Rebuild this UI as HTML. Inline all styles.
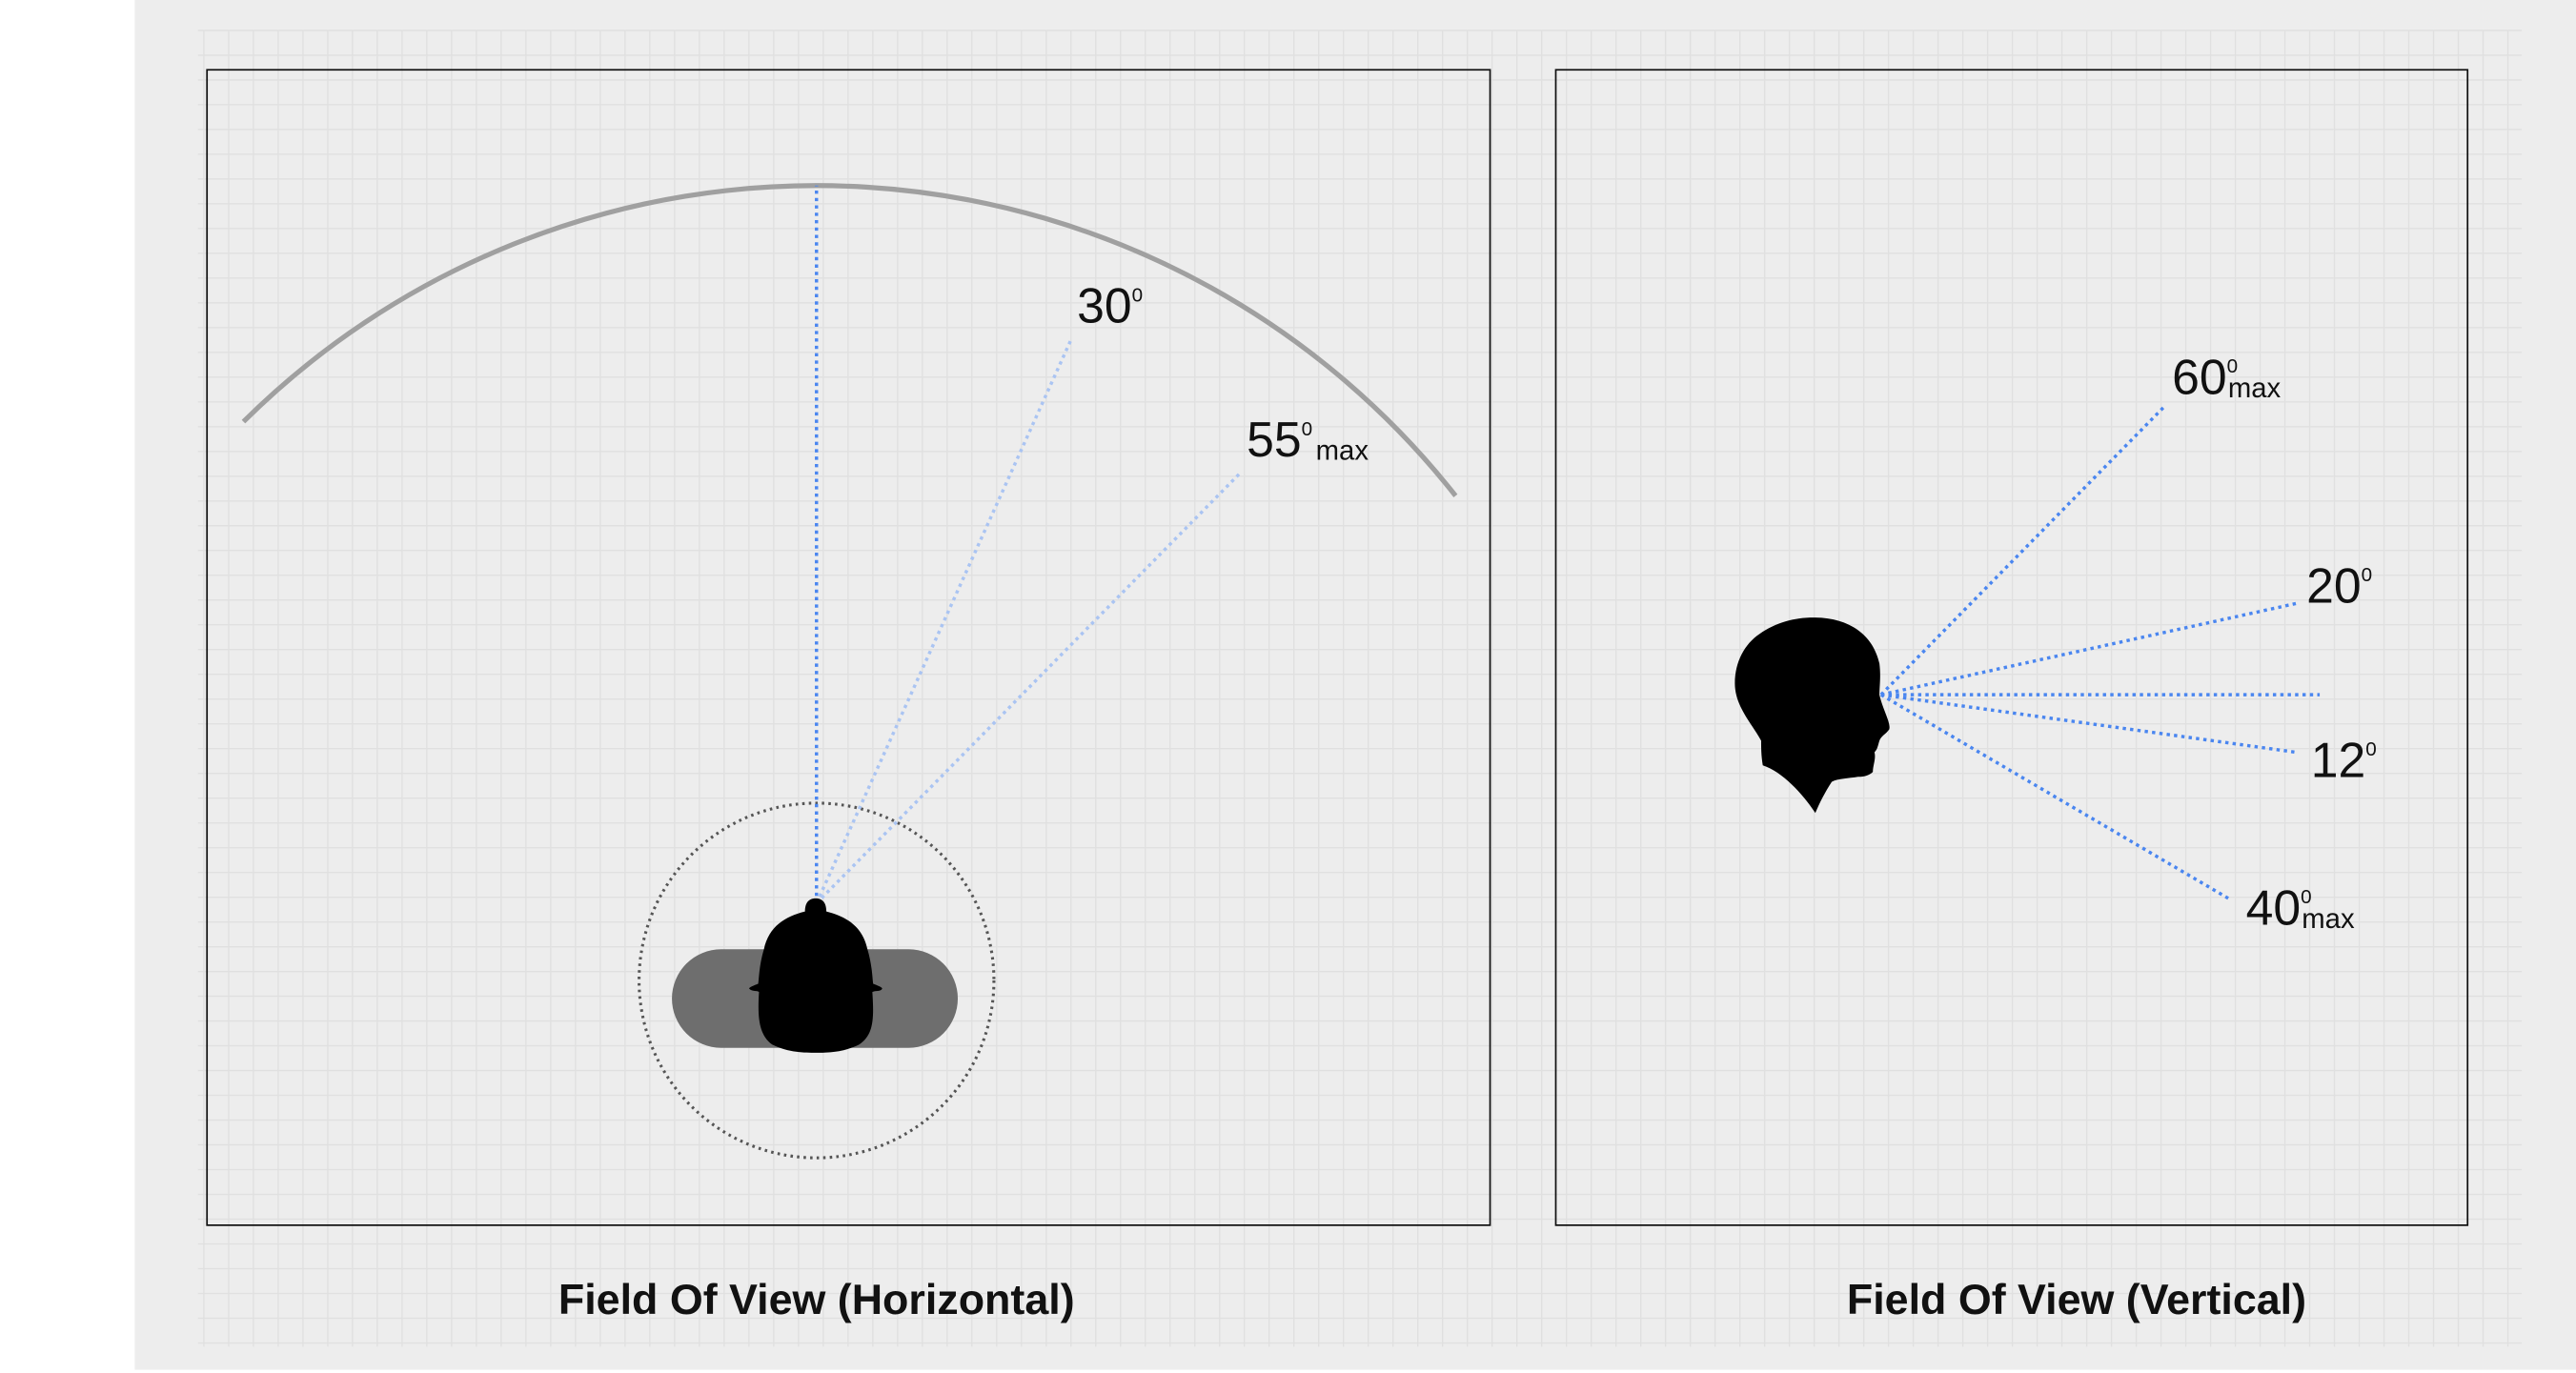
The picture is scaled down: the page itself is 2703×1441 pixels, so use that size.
<!DOCTYPE html>
<html><head><meta charset="utf-8"><style>
html,body{margin:0;padding:0;background:#fff;}
svg{display:block;}
text{font-family:"Liberation Sans",sans-serif;}
</style></head><body>
<svg id="chart" width="2703" height="1441" viewBox="0 0 1568 836" preserveAspectRatio="none" xmlns="http://www.w3.org/2000/svg">
<rect x="82" y="0" width="1486" height="834" fill="#ededed"/>
<g id="grid"></g>
<rect x="126" y="42.5" width="781" height="703.5" fill="none" stroke="#111" stroke-width="1"/>
<rect x="947" y="42.5" width="555" height="703.5" fill="none" stroke="#111" stroke-width="1"/>
<g id="hgroup"></g>
<g id="vgroup"></g>
<text x="497" y="800" font-size="26" font-weight="bold" text-anchor="middle" fill="#111">Field Of View (Horizontal)</text>
<text x="1264" y="800" font-size="26" font-weight="bold" text-anchor="middle" fill="#111">Field Of View (Vertical)</text>
</svg>
<script>
// Horizontal FOV data (degrees from straight ahead)
const hAngles = [0, 30, 55];
const hLabels = ["", "30", "55"];
const hSuffix = ["", "", "max"];
const hLineLen = [437, 378, 369];
// Vertical FOV data (drawn angle in degrees, positive = up)
const vAngles = [45.5, 12.4, 0, -7.9, -30.4];
const vLabels = ["60", "20", "", "12", "40"];
const vSuffix = ["max", "", "", "", "max"];
const vLineLen = [247, 261, 267, 255, 247];

const NS = "http://www.w3.org/2000/svg";
function mk(tag, attrs, parent){const e=document.createElementNS(NS,tag);for(const k in attrs)e.setAttribute(k,attrs[k]);parent.appendChild(e);return e;}
// horizontal diagram draws angles compressed (perspective)
const hAngleScale = 0.81;

// grid
const grid=document.getElementById('grid');
for(let x=124.1;x<=1536;x+=15.08){
  const l=mk('line',{x1:x,y1:18.5,x2:x,y2:820,stroke:'#e0e0e0','stroke-width':0.8},grid);
  
  
}
for(let y=18.5;y<=821;y+=15.08){
  const l=mk('line',{x1:120.5,y1:y,x2:1535,y2:y,stroke:'#e0e0e0','stroke-width':0.8},grid);
  
  
}

// horizontal panel
const hg=document.getElementById('hgroup');
const cx=497, cy=608, R=495;
function arcPt(deg){const r=deg*Math.PI/180;return [cx+R*Math.sin(r), cy-R*Math.cos(r)];}
const a1=arcPt(-44.8), a2=arcPt(51.8);
const arc=mk('path',{d:`M${a1[0]},${a1[1]} A${R},${R} 0 0 1 ${a2[0]},${a2[1]}`,fill:'none',stroke:'#a0a0a0','stroke-width':3},hg);


const ring=mk('circle',{cx:497,cy:597,r:108,fill:'none',stroke:'#555','stroke-width':1.8,'stroke-dasharray':'1.5 2.5'},hg);


const pill=mk('rect',{x:409,y:578,width:174,height:60,rx:30,fill:'#6e6e6e'},hg);


const ox=497, oy=550;
hAngles.forEach((a,i)=>{
  const r=a*hAngleScale*Math.PI/180, L=hLineLen[i];
  const ex=ox+L*Math.sin(r), ey=oy-L*Math.cos(r);
  const ln=mk('line',{x1:ox,y1:oy,x2:ex,y2:ey,stroke:i===0?'#4a86f0':'#aac4f2','stroke-width':2,'stroke-dasharray':'2 2.5'},hg);
  
  
  if(hLabels[i]){
    const t=mk('text',{x:ex+3,y:ey-9,'font-size':30,fill:'#111'},hg);
    
    
    t.textContent=hLabels[i];
    const s=mk('tspan',{'font-size':12,dy:-13},t);s.textContent='0';
    if(hSuffix[i]){const m=mk('tspan',{'font-size':17,dy:15,dx:2},t);m.textContent=hSuffix[i];}
  }
});
const head=mk('path',{d:'M496.5,547 C492,547 490,550 490,555 C478,558 468,564 465,578 C462,588 462,596 461.5,599 C459,600 456,601 456,602 C458,604 461,603 462,604 C461,620 462,630 470,636 C480,641 490,641 496.5,641 C503,641 513,641 523,636 C532,630 532,620 531,604 C533,603 536,604 537,602 C537,601 534,600 531.5,599 C531,596 531,588 528,578 C525,564 515,558 503,555 C503,550 501,547 496.5,547 Z',fill:'#000'},hg);



// vertical panel
const vg=document.getElementById('vgroup');
const vx=1145, vy=423;
vAngles.forEach((a,i)=>{
  const r=a*Math.PI/180, L=vLineLen[i];
  const ex=vx+L*Math.cos(r), ey=vy-L*Math.sin(r);
  const ln=mk('line',{x1:vx,y1:vy,x2:ex,y2:ey,stroke:'#4a86f0','stroke-width':2,'stroke-dasharray':'2 2.5'},vg);
  
  
  if(vLabels[i]){
    const up=a>0;
    const tx = up ? ex+4 : ex+9;
    const ty = up ? (a>30 ? ey-7 : ey) : ey+15;
    const t=mk('text',{x:tx,y:ty,'font-size':30,fill:'#111'},vg);
    
    
    t.textContent=vLabels[i];
    const s=mk('tspan',{'font-size':12,dy:-13},t);s.textContent='0';
    if(vSuffix[i]){const m=mk('tspan',{'font-size':17,dy:15,dx:-6},t);m.textContent=vSuffix[i];}
  }
});
const side=mk('path',{d:'M1104,376 C1125,376 1140,386 1144,404 C1145,412 1144,418 1144,423 C1146,432 1151,440 1150,444 C1148,447 1145,448 1144,451 C1143,454 1143,456 1141,458 C1142,462 1140,466 1140,470 C1138,472 1135,473 1131,473 C1125,474 1119,474 1115,476 C1111,482 1107,490 1105,495 C1097,483 1085,470 1073,466 C1072,460 1072,455 1072,451 C1066,440 1056,430 1056,416 C1056,403 1062,392 1071,386 C1081,379 1092,376 1104,376 Z',fill:'#000'},vg);


</script>
</body></html>
